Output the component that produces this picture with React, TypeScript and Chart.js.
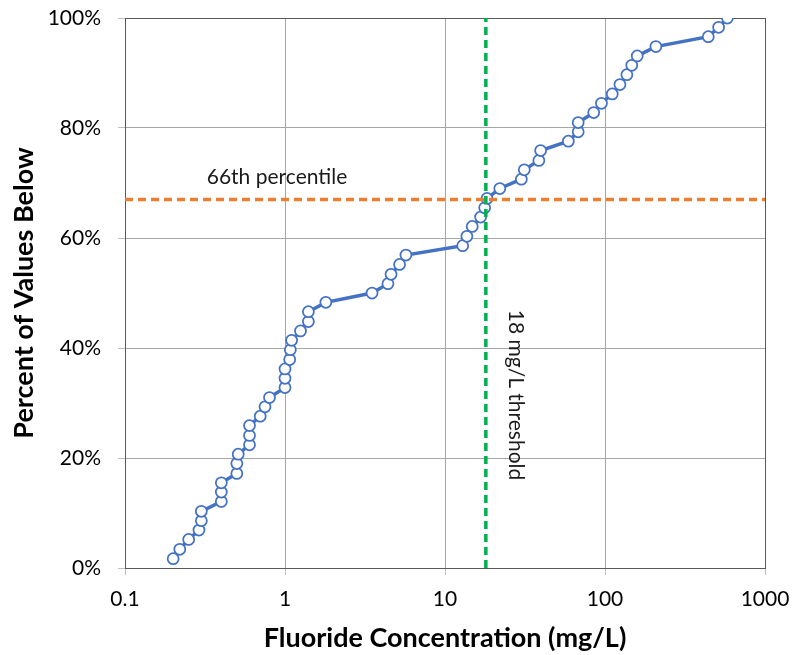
import React, { useEffect, useRef } from "react";
import { Chart, registerables } from "chart.js";

Chart.register(...registerables);

// Fluoride concentration (mg/L), sorted
const concentrations = [
  0.2, 0.22, 0.25, 0.29, 0.3, 0.3, 0.4, 0.4, 0.4, 0.5,
  0.5, 0.51, 0.6, 0.6, 0.6, 0.7, 0.75, 0.8, 1.0, 1.0,
  1.0, 1.07, 1.08, 1.1, 1.25, 1.4, 1.4, 1.8, 3.5, 4.4,
  4.6, 5.2, 5.7, 12.9, 13.7, 14.8, 16.7, 17.7, 18.3, 22,
  30, 31.3, 38.6, 39.6, 59, 68, 68, 85, 95, 111,
  124, 137, 147, 159, 208, 442, 513, 582,
];
// Percent of values below
const percents = [
  1.7, 3.4, 5.2, 6.9, 8.6, 10.3, 12.1, 13.8, 15.5, 17.2,
  19.0, 20.7, 22.4, 24.1, 25.9, 27.6, 29.3, 31.0, 32.8, 34.5,
  36.2, 37.9, 39.7, 41.4, 43.1, 44.8, 46.6, 48.3, 50.0, 51.7,
  53.4, 55.2, 56.9, 58.6, 60.3, 62.1, 63.8, 65.5, 67.2, 69.0,
  70.7, 72.4, 74.1, 75.9, 77.6, 79.3, 81.0, 82.8, 84.5, 86.2,
  87.9, 89.7, 91.4, 93.1, 94.8, 96.6, 98.3, 100,
];
const xTicks = [0.1, 1, 10, 100, 1000];
const xTickLabels = ["0.1", "1", "10", "100", "1000"];
const yTicks = [0, 20, 40, 60, 80, 100];
const thresholdX = 18;
const percentileY = 67;
const xRange = [0.1, 1000];
const yRange = [0, 100];

const xTitle = "Fluoride Concentration (mg/L)";
const yTitle = "Percent of Values Below";
const percentileLabel = "66th percentile";
const thresholdLabel = "18 mg/L threshold";

const FONT = "Lato, 'Liberation Sans', sans-serif";

export default function App() {
  const ref = useRef<HTMLCanvasElement | null>(null);

  useEffect(() => {
    if (!ref.current) return;
    const textPlugin = {
      id: "texts",
      beforeDatasetsDraw(chart: any) {
        const { ctx, chartArea } = chart;
        ctx.save();
        ctx.strokeStyle = "#595959";
        ctx.lineWidth = 1;
        ctx.strokeRect(chartArea.left + 0.5, chartArea.top + 0.5, chartArea.right - chartArea.left, chartArea.bottom - chartArea.top);
        ctx.restore();
      },
      afterDraw(chart: any) {
        const { ctx, chartArea, scales } = chart;
        ctx.save();
        ctx.fillStyle = "#000";
        ctx.textAlign = "center";
        ctx.textBaseline = "middle";
        // axis titles
        ctx.font = `bold 27px ${FONT}`;
        ctx.fillText(xTitle, (chartArea.left + chartArea.right) / 2, 638);
        ctx.save();
        ctx.translate(24, (chartArea.top + chartArea.bottom) / 2);
        ctx.rotate(-Math.PI / 2);
        ctx.fillText(yTitle, 0, 0);
        ctx.restore();
        // annotations
        ctx.font = `21px ${FONT}`;
        ctx.fillStyle = "#1a1a1a";
        ctx.fillText(percentileLabel, 277, scales.y.getPixelForValue(percentileY) - 22);
        ctx.save();
        ctx.translate(scales.x.getPixelForValue(thresholdX) + 30, 395);
        ctx.rotate(Math.PI / 2);
        ctx.fillText(thresholdLabel, 0, 0);
        ctx.restore();
        ctx.restore();
      },
    };

    const chart = new Chart(ref.current, {
      type: "line",
      data: {
        datasets: [
          {
            label: "threshold",
            data: [{ x: thresholdX, y: yRange[0] }, { x: thresholdX, y: yRange[1] }],
            borderColor: "#00B050",
            borderWidth: 3.5,
            borderDash: [8, 5],
            pointRadius: 0,
          },
          {
            label: "percentile",
            data: [{ x: xRange[0], y: percentileY }, { x: xRange[1], y: percentileY }],
            borderColor: "#ED7D31",
            borderWidth: 3.5,
            borderDash: [8, 5],
            pointRadius: 0,
          },
          {
            label: "values",
            data: concentrations.map((c, i) => ({ x: c, y: percents[i] })),
            borderColor: "#4472C4",
            borderWidth: 3.5,
            pointRadius: 5.5,
            pointBorderWidth: 1.75,
            pointBackgroundColor: "#ffffff",
            pointBorderColor: "#4472C4",
          },
        ],
      },
      plugins: [textPlugin],
      options: {
        animation: false,
        responsive: false,
        layout: { padding: { top: 18, right: 28, left: 0, bottom: 0 } },
        plugins: { legend: { display: false }, tooltip: { enabled: false } },
        scales: {
          x: {
            type: "logarithmic",
            min: xRange[0],
            max: xRange[1],
            afterBuildTicks: (scale: any) => {
              scale.ticks = xTicks.map((v) => ({ value: v }));
            },
            afterFit: (scale: any) => {
              scale.height = 87;
              scale.paddingLeft = 0;
              scale.paddingRight = 0;
            },
            ticks: {
              callback: (v: any) => {
                const i = xTicks.indexOf(Number(v));
                return i >= 0 ? xTickLabels[i] : "";
              },
              color: "#000",
              font: { family: FONT, size: 21 },
              padding: 12,
              maxRotation: 0,
              autoSkip: false,
            },
            grid: { color: "#a6a6a6", tickColor: "#bfbfbf", tickLength: 7 },
            border: { color: "#595959" },
          },
          y: {
            min: yRange[0],
            max: yRange[1],
            afterBuildTicks: (scale: any) => {
              scale.ticks = yTicks.map((v) => ({ value: v }));
            },
            afterFit: (scale: any) => {
              scale.width = 125;
              scale.paddingTop = 0;
              scale.paddingBottom = 0;
            },
            ticks: {
              callback: (v: any) => `${v}%`,
              color: "#000",
              font: { family: FONT, size: 21 },
              padding: 17,
            },
            grid: { color: "#a6a6a6", tickColor: "#bfbfbf", tickLength: 7 },
            border: { color: "#595959" },
          },
        },
      },
    } as any);
    return () => chart.destroy();
  }, []);

  return (
    <div style={{ position: "fixed", left: 0, top: 0, width: 793, height: 655, background: "#fff" }}>
      <canvas ref={ref} width={793} height={655} />
    </div>
  );
}
